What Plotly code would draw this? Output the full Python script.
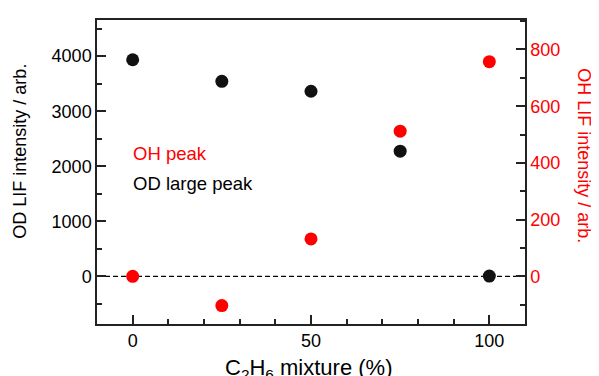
import plotly.graph_objects as go

mixture = [0, 25, 50, 75, 100]
od_large_peak = [3935, 3543, 3363, 2274, 5]
oh_peak = [0, -103, 132, 512, 757]

FONT = "Arial, Liberation Sans, sans-serif"

fig = go.Figure()
fig.add_trace(go.Scatter(x=mixture, y=od_large_peak, mode="markers",
                         marker=dict(color="#111111", size=13),
                         name="OD large peak", yaxis="y"))
fig.add_trace(go.Scatter(x=mixture, y=oh_peak, mode="markers",
                         marker=dict(color="#ff0000", size=13),
                         name="OH peak", yaxis="y2"))

axis_common = dict(showgrid=False, zeroline=False, showline=True,
                   linecolor="#222", linewidth=1.5, ticks="inside",
                   tickcolor="#222", tickwidth=1.5)

# the page body adds an 8px offset, so the figure is sized to fit the window
fig.update_layout(
    width=591, height=368,
    margin=dict(l=89, r=74, t=10, b=52),
    paper_bgcolor="white", plot_bgcolor="white",
    showlegend=False,
    font=dict(family=FONT, size=18, color="black"),
    xaxis=dict(range=[-10, 110], dtick=50, tick0=0, ticklen=9, mirror=True,
               minor=dict(dtick=10, ticks="inside", ticklen=5, tickcolor="#222"),
               tickfont=dict(size=18, color="black"),
               **axis_common),
    yaxis=dict(range=[-866, 4657], dtick=1000, tick0=0, ticklen=9,
               minor=dict(dtick=500, ticks="inside", ticklen=5, tickcolor="#222"),
               tickfont=dict(size=18, color="black"),
               **axis_common),
    yaxis2=dict(range=[-168, 904], dtick=200, tick0=0, ticklen=9,
                overlaying="y", side="right",
                minor=dict(dtick=100, ticks="inside", ticklen=5, tickcolor="#222"),
                tickfont=dict(size=18, color="#ff0000"),
                **axis_common),
)

fig.add_shape(type="line", xref="paper", yref="y", x0=0, x1=1, y0=0, y1=0,
              line=dict(color="black", width=1.2, dash="5px,3px"), layer="below")

fig.add_annotation(text="OD LIF intensity / arb.", xref="paper", yref="paper",
                   x=-0.18, y=0.57, textangle=-90, showarrow=False,
                   xanchor="center", yanchor="middle",
                   font=dict(size=18, color="black"))
fig.add_annotation(text="OH LIF intensity / arb.", xref="paper", yref="paper",
                   x=1.138, y=0.555, textangle=90, showarrow=False,
                   xanchor="center", yanchor="middle",
                   font=dict(size=18, color="#ff0000"))
fig.add_annotation(text="C<sub>2</sub>H<sub>6</sub> mixture (%)", xref="paper", yref="paper",
                   x=0.493, y=-0.095, showarrow=False,
                   xanchor="center", yanchor="top",
                   font=dict(size=22, color="black"))
fig.add_annotation(text="OH peak", xref="paper", yref="paper",
                   x=0.079, y=0.56, showarrow=False, xanchor="left", yanchor="middle",
                   font=dict(size=18.5, color="#ff0000"))
fig.add_annotation(text="OD large peak", xref="paper", yref="paper",
                   x=0.079, y=0.462, showarrow=False, xanchor="left", yanchor="middle",
                   font=dict(size=18.5, color="black"))

fig.write_html("out.html")
